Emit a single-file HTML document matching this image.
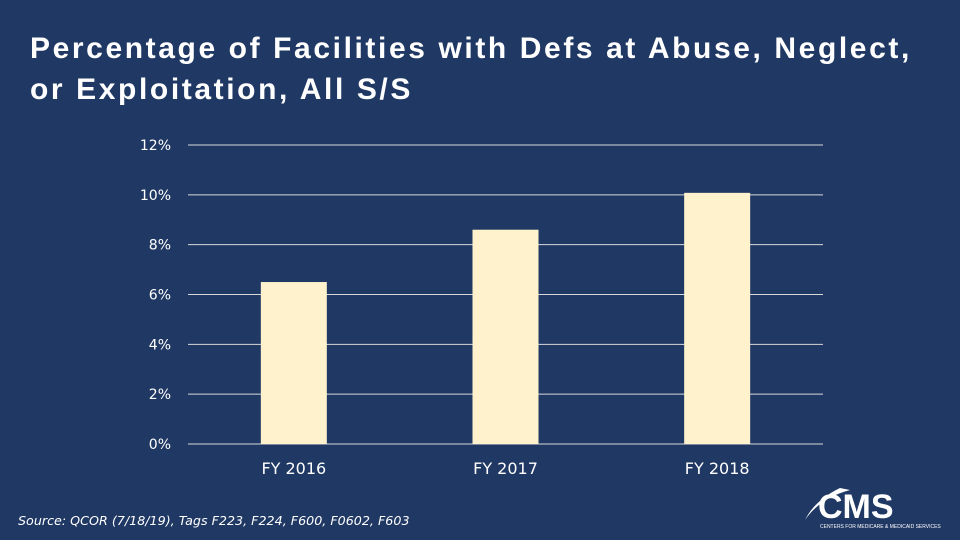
<!DOCTYPE html>
<html><head><meta charset="utf-8"><style>
body{margin:0;width:960px;height:540px;background:#203864;overflow:hidden;font-family:"Liberation Sans",sans-serif;}
#title{position:absolute;left:30px;top:28px;color:#fff;font-size:30px;line-height:41px;margin:0;font-weight:bold;letter-spacing:2.6px;white-space:nowrap;}
#src{position:absolute;left:18px;top:513px;color:#fff;font-size:12.7px;font-style:italic;font-family:"DejaVu Sans","Liberation Sans",sans-serif;}
svg{position:absolute;left:0;top:0;}
</style></head><body>
<h1 id="title">Percentage of Facilities with Defs at Abuse, Neglect,<br>or Exploitation, All S/S</h1>
<svg id="chart" width="960" height="540"></svg>
<div id="src">Source: QCOR (7/18/19), Tags F223, F224, F600, F0602, F603</div>
<script>
const categories=["FY 2016","FY 2017","FY 2018"];
const values=[6.5,8.6,10.08];
const ticks=[0,2,4,6,8,10,12];
const NS="http://www.w3.org/2000/svg";
const svg=document.getElementById('chart');
const x0=188,x1=823,y0=444,y1=145,maxV=12;
const y=v=>y0-(y0-y1)*v/maxV;
const band=(x1-x0)/categories.length;
const xc=i=>x0+band*(i+0.5);
function mk(t,a){const e=document.createElementNS(NS,t);for(const k in a)e.setAttribute(k,a[k]);svg.appendChild(e);return e;}
ticks.forEach(t=>{
 const l=mk('line',{x1:x0,x2:x1,y1:y(t),y2:y(t),stroke:'#d9d9d9','stroke-width':1});
 
 
 const tx=mk('text',{x:171,y:y(t)+5,fill:'#fff','font-size':14,'text-anchor':'end','font-family':'DejaVu Sans, Liberation Sans, sans-serif'});
 tx.textContent=t+'%';
 
 
});
categories.forEach((c,i)=>{
 const r=mk('rect',{x:xc(i)-33,y:y(values[i]),width:66,height:y0-y(values[i]),fill:'#fff2cc'});
 
 
 const t=mk('text',{x:xc(i),y:474,fill:'#fff','font-size':16,'text-anchor':'middle','font-family':'DejaVu Sans, Liberation Sans, sans-serif'});
 t.textContent=c;
 
 
});
const g=mk('g',{});


g.innerHTML='<path d="M840 488 Q815 500 805 520 Q820 498 850 490 Z" fill="#fff"/><text x="818" y="518" fill="#fff" font-size="34" font-weight="bold" font-family="Liberation Sans, sans-serif">CMS</text><text x="820" y="528" fill="#fff" font-size="5" font-family="Liberation Sans, sans-serif">CENTERS FOR MEDICARE &amp; MEDICAID SERVICES</text>';
</script>
</body></html>
